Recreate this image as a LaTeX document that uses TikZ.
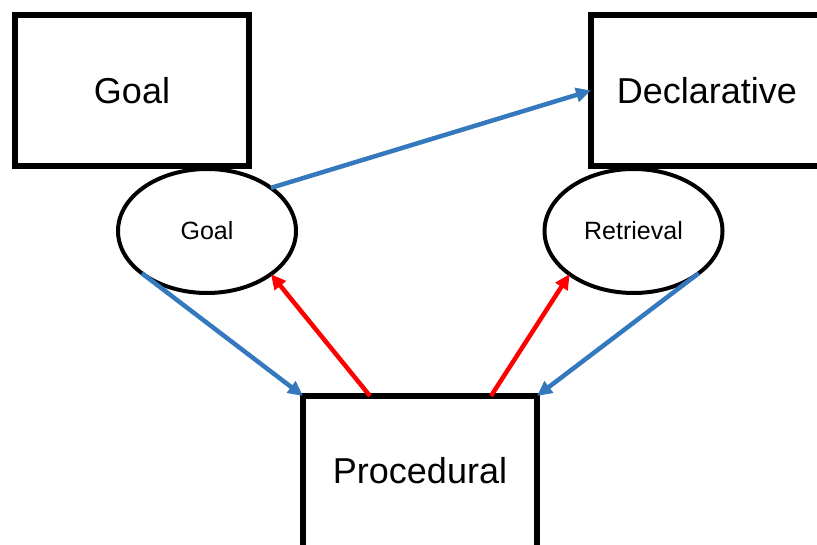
\documentclass[tikz,border=0pt]{standalone}
\usepackage{fontspec}
\setmainfont{Liberation Sans}
\usetikzlibrary{shapes.geometric,arrows.meta}
\definecolor{linkblue}{RGB}{52,120,190}
\definecolor{linkred}{RGB}{255,0,0}
\begin{document}
\begin{tikzpicture}[x=1pt,y=-1pt,
  module/.style={draw, line width=6pt, rectangle, minimum width=234pt,
    minimum height=151pt, inner sep=0pt, outer sep=0pt,
    font=\fontsize{36}{40}\selectfont},
  buffer/.style={draw, line width=4pt, ellipse, minimum width=178pt,
    minimum height=124pt, inner sep=0pt, outer sep=0pt,
    font=\fontsize{25}{28}\selectfont},
  flow/.style={line width=4.5pt, -{Triangle[length=15pt,width=14pt]}},
]
\useasboundingbox (0,0) rectangle (817,545);
\clip (0,0) rectangle (817,545);

% modules
\node[module] (goalbox) at (132,90.5) {Goal};
\node[module, minimum width=232pt] (declbox) at (707,90.5) {Declarative};
\node[module, minimum height=154pt] (procbox) at (420,473)
  {\raisebox{3pt}[\height][0pt]{Procedural}};

% buffers
\node[buffer] (goalbuf) at (207,231) {Goal};
\node[buffer] (retbuf) at (633.5,231) {Retrieval};

% connections
\draw[flow, linkblue] (goalbuf.34) -- (declbox.west);
\draw[flow, linkblue] (goalbuf.213) -- (procbox.north west);
\draw[flow, linkred] ([xshift=-50pt]procbox.north) -- (goalbuf.-34);
\draw[flow, linkred] ([xshift=71pt]procbox.north) -- (retbuf.214);
\draw[flow, linkblue] (retbuf.-33) -- (procbox.north east);
\end{tikzpicture}
\end{document}
